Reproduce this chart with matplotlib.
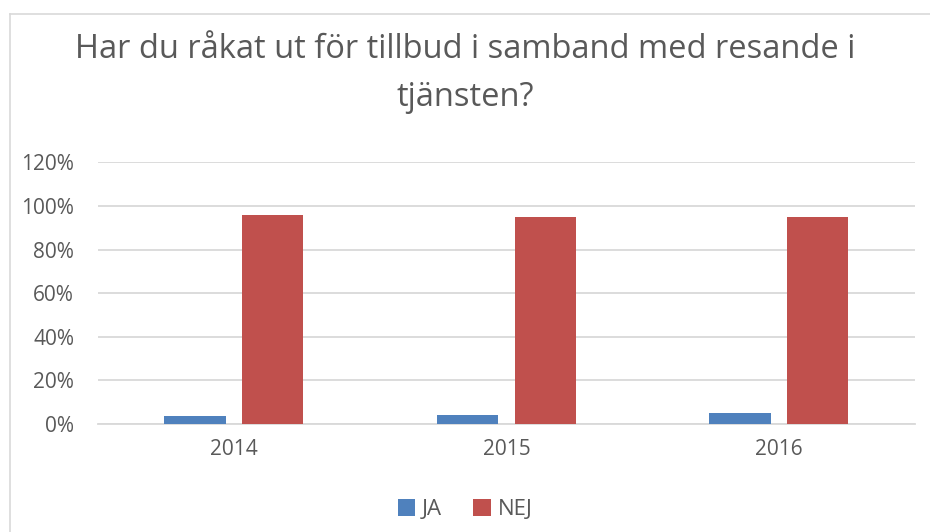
import numpy as np
from matplotlib import pyplot as plt
from matplotlib.lines import Line2D
from matplotlib.ticker import PercentFormatter

years = ["2014", "2015", "2016"]
ja = [3.5, 4.0, 5.0]
nej = [96.0, 95.0, 95.0]
y_ticks = [0, 20, 40, 60, 80, 100, 120]

blue = "#4f81bd"
red = "#c0504d"
text_grey = "#595959"
grid_grey = "#d9d9d9"

plt.rcParams["font.family"] = ["Open Sans", "DejaVu Sans"]

fig = plt.figure(figsize=(9.3, 5.32), dpi=100)
# chart border (cropped at right and bottom in the original)
fig.add_artist(Line2D([9.5 / 930, 1], [1 - 13.5 / 532] * 2, transform=fig.transFigure,
                      color=grid_grey, linewidth=1.2))
fig.add_artist(Line2D([9.5 / 930] * 2, [0, 1 - 13.5 / 532], transform=fig.transFigure,
                      color=grid_grey, linewidth=1.2))

ax = fig.add_axes([0.105, 0.203, 0.879, 0.492])

x = np.arange(len(years))
width = 0.225
gap = 0.06
ax.bar(x - (width + gap) / 2, ja, width, color=blue, label="JA", zorder=3)
ax.bar(x + (width + gap) / 2, nej, width, color=red, label="NEJ", zorder=3)

ax.set_xlim(-0.5, len(years) - 0.5)
ax.set_ylim(0, 120)
ax.set_yticks(y_ticks)
ax.yaxis.set_major_formatter(PercentFormatter(decimals=0))
ax.set_xticks(x)
ax.set_xticklabels(years)

ax.grid(axis="y", color=grid_grey, linewidth=1.3, zorder=0)
for side in ["top", "right", "left"]:
    ax.spines[side].set_visible(False)
ax.spines["bottom"].set_color(grid_grey)
ax.spines["bottom"].set_linewidth(1.3)
ax.tick_params(axis="both", length=0, labelsize=15, colors=text_grey)
ax.tick_params(axis="x", pad=11)
ax.tick_params(axis="y", pad=17)

fig.text(0.5, 0.862, "Har du råkat ut för tillbud i samband med resande i\ntjänsten?",
         ha="center", va="center", fontsize=23.5, color=text_grey, linespacing=1.6)

fig.legend(loc="center", bbox_to_anchor=(0.5, 0.042), ncol=2, frameon=False,
           fontsize=16, handlelength=0.8, handleheight=0.8, handletextpad=0.3,
           columnspacing=1.4, labelcolor=text_grey)

fig.savefig("out.png", dpi=100)
